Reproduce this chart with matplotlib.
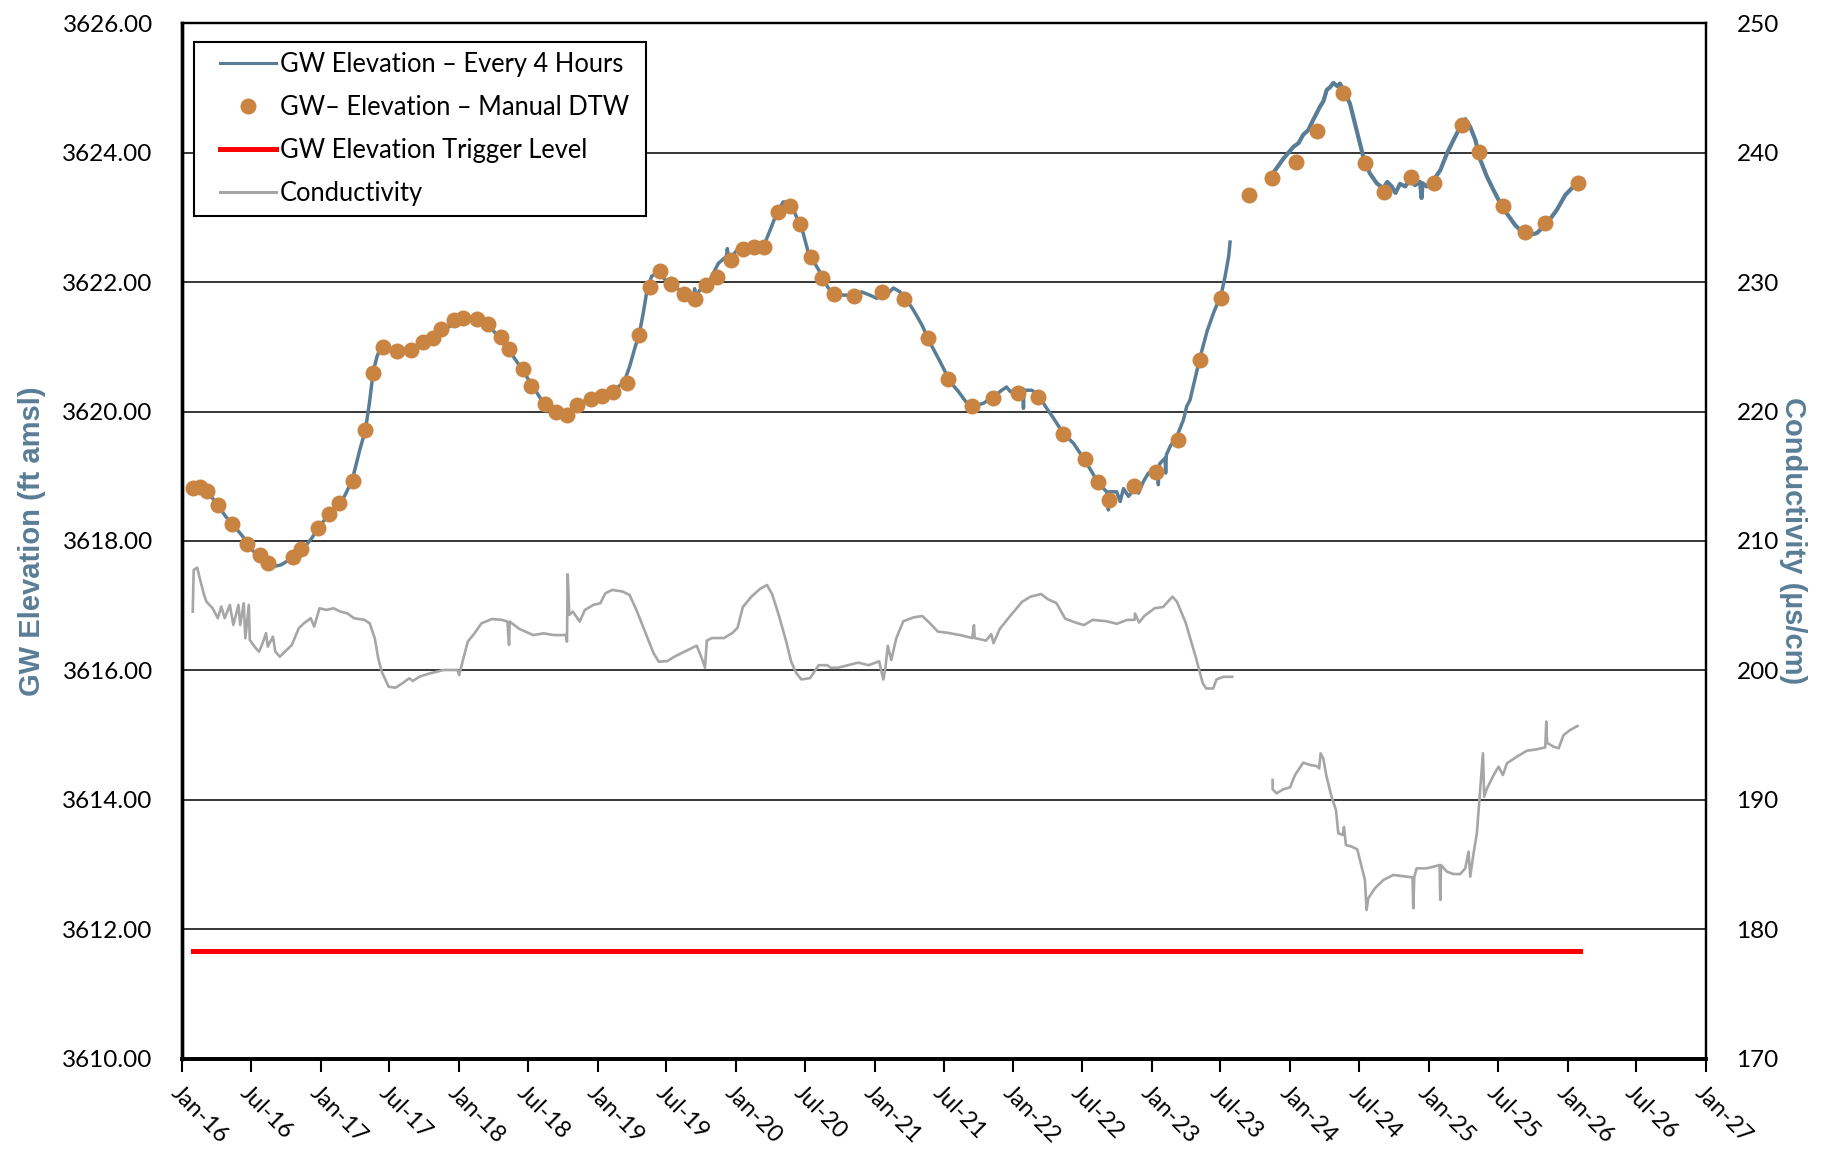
import matplotlib
matplotlib.use('Agg')
from matplotlib import pyplot as plt
import matplotlib.dates as mdates
from matplotlib.lines import Line2D
from matplotlib.legend_handler import HandlerLine2D
from datetime import datetime, timedelta
import numpy as np


def yr(d):
    # decimal year -> datetime
    y = int(d)
    return datetime(y, 1, 1) + timedelta(days=(d - y) * 365.25)


# GW elevation every 4 hours (ft amsl), decimal years
gw_dates_a = [2016.066, 2016.135, 2016.190, 2016.259, 2016.315, 2016.370, 2016.439, 2016.508, 2016.577, 2016.646,
              2016.715, 2016.784, 2016.867, 2016.936, 2017.006, 2017.088, 2017.171, 2017.227, 2017.282, 2017.323,
              2017.351, 2017.379, 2017.406, 2017.434, 2017.489, 2017.558, 2017.641, 2017.724, 2017.807, 2017.890,
              2017.959, 2018.028, 2018.110, 2018.194, 2018.277, 2018.359, 2018.442, 2018.525, 2018.594, 2018.663,
              2018.719, 2018.774, 2018.843, 2018.940, 2019.023, 2019.106, 2019.188, 2019.230, 2019.271, 2019.299,
              2019.329, 2019.353, 2019.389, 2019.437, 2019.498, 2019.570, 2019.642, 2019.690, 2019.700, 2019.710,
              2019.738, 2019.810, 2019.871, 2019.930, 2019.936, 2019.945, 2019.967, 2020.015, 2020.075, 2020.147,
              2020.207, 2020.256, 2020.292, 2020.340, 2020.388, 2020.436, 2020.484, 2020.520, 2020.569, 2020.617,
              2020.665, 2020.725, 2020.797, 2020.869, 2020.905, 2020.966, 2021.014, 2021.062, 2021.100, 2021.134,
              2021.182, 2021.230, 2021.278, 2021.339, 2021.399, 2021.471, 2021.543, 2021.603, 2021.664, 2021.712,
              2021.784, 2021.856, 2021.916, 2021.950, 2021.977, 2022.037, 2022.070, 2022.073, 2022.076, 2022.133,
              2022.181, 2022.217, 2022.241, 2022.289, 2022.361, 2022.434, 2022.506, 2022.566, 2022.614, 2022.674,
              2022.686, 2022.692, 2022.746, 2022.771, 2022.795, 2022.831, 2022.867, 2022.903, 2022.939, 2022.975,
              2023.011, 2023.045, 2023.047, 2023.052, 2023.059, 2023.096, 2023.100, 2023.105, 2023.132, 2023.180,
              2023.228, 2023.252, 2023.276, 2023.300, 2023.350, 2023.400, 2023.450, 2023.500, 2023.530, 2023.555,
              2023.565]
gw_vals_a = [3618.81, 3618.84, 3618.74, 3618.56, 3618.38, 3618.25, 3618.07, 3617.86, 3617.71, 3617.60,
             3617.63, 3617.72, 3617.86, 3618.04, 3618.27, 3618.48, 3618.69, 3618.94, 3619.41, 3619.72,
             3620.13, 3620.62, 3620.85, 3621.00, 3620.98, 3620.93, 3620.93, 3621.03, 3621.13, 3621.26,
             3621.36, 3621.42, 3621.45, 3621.36, 3621.18, 3620.95, 3620.69, 3620.41, 3620.18, 3620.02,
             3619.95, 3619.92, 3620.08, 3620.21, 3620.26, 3620.33, 3620.44, 3620.69, 3621.00, 3621.18,
             3621.52, 3621.83, 3622.09, 3622.16, 3622.01, 3621.91, 3621.80, 3621.75, 3621.90, 3621.78,
             3621.88, 3622.03, 3622.29, 3622.40, 3622.52, 3622.38, 3622.39, 3622.52, 3622.56, 3622.57,
             3622.60, 3622.86, 3623.06, 3623.24, 3623.24, 3623.01, 3622.76, 3622.47, 3622.29, 3622.11,
             3621.91, 3621.80, 3621.80, 3621.78, 3621.85, 3621.80, 3621.75, 3621.91, 3621.84, 3621.91,
             3621.85, 3621.72, 3621.57, 3621.34, 3621.06, 3620.77, 3620.46, 3620.31, 3620.13, 3620.08,
             3620.13, 3620.23, 3620.33, 3620.38, 3620.31, 3620.33, 3620.35, 3620.05, 3620.33, 3620.33,
             3620.26, 3620.13, 3620.05, 3619.90, 3619.66, 3619.51, 3619.28, 3619.07, 3618.89, 3618.76,
             3618.48, 3618.76, 3618.76, 3618.61, 3618.81, 3618.69, 3618.79, 3618.74, 3618.92, 3619.05,
             3619.07, 3619.10, 3618.87, 3619.15, 3619.20, 3619.28, 3619.05, 3619.33, 3619.46, 3619.61,
             3619.87, 3620.08, 3620.18, 3620.40, 3620.85, 3621.25, 3621.55, 3621.80, 3622.10, 3622.40,
             3622.62]

gw_dates_b = [2023.890, 2023.950, 2024.022, 2024.060, 2024.094, 2024.130, 2024.166, 2024.214, 2024.240, 2024.263,
              2024.290, 2024.311, 2024.340, 2024.359, 2024.395, 2024.431, 2024.479, 2024.527, 2024.575, 2024.624,
              2024.672, 2024.700, 2024.732, 2024.760, 2024.792, 2024.830, 2024.864, 2024.900, 2024.937, 2024.948,
              2024.955, 2024.985, 2025.033, 2025.081, 2025.129, 2025.177, 2025.225, 2025.261, 2025.297, 2025.334,
              2025.370, 2025.418, 2025.466, 2025.514, 2025.562, 2025.622, 2025.670, 2025.730, 2025.779, 2025.851,
              2025.923, 2025.984, 2026.044, 2026.092]
gw_vals_b = [3623.73, 3623.91, 3624.09, 3624.15, 3624.28, 3624.35, 3624.51, 3624.71, 3624.80, 3624.97,
             3625.02, 3625.08, 3625.03, 3625.07, 3624.92, 3624.76, 3624.35, 3623.94, 3623.68, 3623.53,
             3623.45, 3623.55, 3623.48, 3623.38, 3623.52, 3623.48, 3623.58, 3623.50, 3623.55, 3623.30,
             3623.53, 3623.48, 3623.58, 3623.73, 3623.99, 3624.20, 3624.40, 3624.52, 3624.40, 3624.20,
             3623.89, 3623.63, 3623.42, 3623.22, 3623.06, 3622.88, 3622.78, 3622.73, 3622.76, 3622.91,
             3623.12, 3623.35, 3623.48, 3623.55]

# manual depth-to-water readings converted to elevation
man_dates = [2016.08, 2016.13, 2016.18, 2016.26, 2016.36, 2016.47, 2016.56, 2016.62, 2016.80, 2016.86,
             2016.98, 2017.06, 2017.13, 2017.23, 2017.32, 2017.38, 2017.45, 2017.55, 2017.65, 2017.74,
             2017.81, 2017.87, 2017.96, 2018.03, 2018.13, 2018.21, 2018.30, 2018.36, 2018.46, 2018.52,
             2018.62, 2018.70, 2018.78, 2018.85, 2018.95, 2019.03, 2019.11, 2019.21, 2019.30, 2019.38,
             2019.45, 2019.53, 2019.62, 2019.70, 2019.78, 2019.86, 2019.96, 2020.05, 2020.13, 2020.20,
             2020.30, 2020.39, 2020.46, 2020.54, 2020.62, 2020.71, 2020.85, 2021.05, 2021.21, 2021.38,
             2021.53, 2021.70, 2021.85, 2022.03, 2022.18, 2022.36, 2022.52, 2022.61, 2022.69, 2022.87,
             2023.03, 2023.19, 2023.35, 2023.50, 2023.70, 2023.865, 2024.039, 2024.190, 2024.383, 2024.537,
             2024.677, 2024.869, 2025.038, 2025.237, 2025.360, 2025.533, 2025.695, 2025.839, 2026.073]
man_vals = [3618.82, 3618.83, 3618.78, 3618.55, 3618.27, 3617.95, 3617.79, 3617.66, 3617.75, 3617.88,
            3618.20, 3618.42, 3618.58, 3618.92, 3619.72, 3620.60, 3621.00, 3620.93, 3620.95, 3621.07,
            3621.14, 3621.27, 3621.41, 3621.45, 3621.43, 3621.36, 3621.16, 3620.96, 3620.66, 3620.40,
            3620.12, 3619.99, 3619.95, 3620.10, 3620.19, 3620.24, 3620.31, 3620.44, 3621.18, 3621.92,
            3622.17, 3621.97, 3621.81, 3621.74, 3621.96, 3622.08, 3622.34, 3622.52, 3622.55, 3622.55,
            3623.08, 3623.17, 3622.90, 3622.39, 3622.06, 3621.81, 3621.79, 3621.85, 3621.74, 3621.14,
            3620.51, 3620.08, 3620.21, 3620.28, 3620.22, 3619.66, 3619.27, 3618.91, 3618.64, 3618.85,
            3619.07, 3619.56, 3620.80, 3621.76, 3623.35, 3623.61, 3623.85, 3624.34, 3624.92, 3623.84,
            3623.40, 3623.63, 3623.54, 3624.43, 3624.01, 3623.18, 3622.77, 3622.91, 3623.53]

trigger_dates = [2016.08, 2026.09]
trigger_level = 3611.67

# conductivity (us/cm)
cond_dates_a = [2016.078, 2016.085, 2016.110, 2016.135, 2016.160, 2016.177, 2016.222, 2016.259, 2016.284, 2016.309,
                2016.346, 2016.371, 2016.408, 2016.421, 2016.446, 2016.458, 2016.483, 2016.490, 2016.533, 2016.557,
                2016.582, 2016.607, 2016.620, 2016.657, 2016.674, 2016.707, 2016.744, 2016.794, 2016.843, 2016.881,
                2016.930, 2016.955, 2016.993, 2017.042, 2017.092, 2017.142, 2017.191, 2017.241, 2017.316, 2017.353,
                2017.390, 2017.415, 2017.440, 2017.490, 2017.540, 2017.589, 2017.639, 2017.664, 2017.714, 2017.788,
                2017.888, 2017.987, 2018.000, 2018.024, 2018.062, 2018.111, 2018.161, 2018.236, 2018.310, 2018.348,
                2018.360, 2018.365, 2018.435, 2018.534, 2018.609, 2018.683, 2018.770, 2018.778, 2018.783, 2018.795,
                2018.820, 2018.870, 2018.907, 2018.969, 2019.019, 2019.056, 2019.106, 2019.181, 2019.230, 2019.280,
                2019.342, 2019.404, 2019.442, 2019.504, 2019.554, 2019.628, 2019.715, 2019.752, 2019.775, 2019.788,
                2019.825, 2019.912, 2019.974, 2020.011, 2020.049, 2020.111, 2020.173, 2020.223, 2020.260, 2020.310,
                2020.360, 2020.397, 2020.434, 2020.471, 2020.534, 2020.596, 2020.658, 2020.683, 2020.733, 2020.807,
                2020.882, 2020.956, 2021.031, 2021.043, 2021.061, 2021.075, 2021.093, 2021.118, 2021.155, 2021.205,
                2021.280, 2021.342, 2021.392, 2021.454, 2021.528, 2021.628, 2021.702, 2021.715, 2021.720, 2021.802,
                2021.840, 2021.856, 2021.901, 2021.976, 2022.063, 2022.125, 2022.200, 2022.249, 2022.311, 2022.374,
                2022.448, 2022.510, 2022.572, 2022.672, 2022.747, 2022.821, 2022.875, 2022.878, 2022.908, 2022.945,
                2023.020, 2023.082, 2023.149, 2023.182, 2023.244, 2023.318, 2023.368, 2023.393, 2023.443, 2023.467,
                2023.517, 2023.580]
cond_vals_a = [204.54, 207.76, 207.94, 206.86, 205.83, 205.31, 204.80, 204.03, 204.93, 204.03,
               205.06, 203.51, 205.06, 203.51, 205.19, 202.48, 205.06, 202.35, 201.71, 201.45,
               202.09, 202.87, 201.84, 202.61, 201.45, 201.06, 201.45, 201.97, 203.25, 203.64,
               204.03, 203.38, 204.80, 204.67, 204.80, 204.54, 204.41, 204.03, 203.90, 203.64,
               202.48, 200.93, 199.90, 198.74, 198.66, 199.00, 199.39, 199.18, 199.52, 199.77,
               200.03, 200.03, 199.64, 200.67, 202.22, 202.87, 203.64, 203.97, 203.90, 203.77,
               201.97, 203.77, 203.20, 202.73, 202.86, 202.73, 202.73, 202.22, 207.43, 204.29,
               204.54, 203.77, 204.67, 205.06, 205.19, 205.96, 206.22, 206.09, 205.83, 204.67,
               202.99, 201.32, 200.67, 200.72, 201.06, 201.45, 201.91, 200.93, 200.20, 202.30,
               202.50, 202.50, 202.90, 203.30, 204.90, 205.70, 206.30, 206.60, 205.90, 204.20,
               202.30, 200.70, 199.80, 199.30, 199.40, 200.40, 200.40, 200.20, 200.20, 200.40,
               200.60, 200.40, 200.70, 200.10, 199.30, 200.10, 201.90, 200.80, 202.50, 203.80,
               204.10, 204.20, 203.70, 203.00, 202.90, 202.70, 202.50, 203.50, 202.50, 202.30,
               202.80, 202.10, 203.20, 204.20, 205.30, 205.70, 205.90, 205.50, 205.20, 204.00,
               203.70, 203.50, 203.90, 203.80, 203.60, 203.90, 203.90, 204.40, 203.70, 204.20,
               204.80, 204.90, 205.70, 205.30, 203.70, 201.00, 199.00, 198.60, 198.60, 199.30,
               199.50, 199.50]

cond_dates_b = [2023.872, 2023.872, 2023.901, 2023.949, 2023.998, 2024.034, 2024.094, 2024.142, 2024.190, 2024.209,
                2024.219, 2024.238, 2024.262, 2024.298, 2024.330, 2024.347, 2024.378, 2024.388, 2024.402, 2024.443,
                2024.484, 2024.515, 2024.539, 2024.551, 2024.563, 2024.611, 2024.672, 2024.744, 2024.840, 2024.883,
                2024.888, 2024.895, 2024.912, 2024.984, 2025.032, 2025.076, 2025.081, 2025.086, 2025.129, 2025.177,
                2025.225, 2025.261, 2025.285, 2025.297, 2025.321, 2025.345, 2025.365, 2025.389, 2025.398, 2025.418,
                2025.466, 2025.502, 2025.533, 2025.562, 2025.634, 2025.706, 2025.779, 2025.839, 2025.846, 2025.852,
                2025.899, 2025.935, 2025.971, 2026.019, 2026.072]
cond_vals_b = [191.53, 190.81, 190.50, 190.81, 190.96, 191.91, 192.87, 192.69, 192.61, 192.43,
               193.59, 193.20, 191.80, 190.24, 189.21, 187.41, 187.28, 187.90, 186.50, 186.38,
               186.17, 184.83, 183.80, 181.48, 182.38, 183.16, 183.80, 184.19, 184.06, 184.00,
               181.61, 184.00, 184.70, 184.70, 184.83, 184.96, 182.25, 184.96, 184.44, 184.26,
               184.26, 184.70, 185.99, 184.06, 185.86, 187.41, 190.24, 193.59, 190.24, 190.88,
               191.91, 192.56, 191.91, 192.82, 193.33, 193.79, 193.90, 194.05, 196.04, 194.40,
               194.10, 193.98, 195.00, 195.39, 195.70]

blue = '#5A7D97'
orange = '#C98441'
grey = '#A6A6A6'
tick_font = 'Lato'

fig = plt.figure(figsize=(18.32, 11.52), dpi=100)
ax = fig.add_axes([0.0993, 0.0811, 0.8319, 0.8986])
ax2 = ax.twinx()

ax.plot([yr(d) for d in gw_dates_a], gw_vals_a, color=blue, lw=2.5, zorder=3)
ax.plot([yr(d) for d in gw_dates_b], gw_vals_b, color=blue, lw=3.0, zorder=3)
ax.plot([yr(d) for d in man_dates], man_vals, 'o', color=orange, ms=11.5, mec='none', zorder=4)
ax.plot([yr(d) for d in trigger_dates], [trigger_level] * 2, color='#FF0000', lw=3.6, zorder=3)

ax2.plot([yr(d) for d in cond_dates_a], cond_vals_a, color=grey, lw=1.9)
ax2.plot([yr(d) for d in cond_dates_b], cond_vals_b, color=grey, lw=1.9)

ax.set_ylim(3610, 3626)
ax.set_yticks(np.arange(3610, 3627, 2))
ax.set_yticklabels(['%.2f' % v for v in np.arange(3610, 3627, 2)])
ax2.set_ylim(170, 250)
ax2.set_yticks(np.arange(170, 251, 10))

ax.set_xlim(datetime(2016, 1, 1), datetime(2027, 1, 1))
ax.xaxis.set_major_locator(mdates.MonthLocator(bymonth=[1, 7]))
ax.xaxis.set_major_formatter(mdates.DateFormatter('%b-%y'))

ax.grid(axis='y', color='black', lw=1.1)
ax.set_axisbelow(True)

for a in (ax, ax2):
    for s in a.spines.values():
        s.set_linewidth(1.6)
    a.spines['left'].set_linewidth(2.4)
    a.spines['bottom'].set_linewidth(2.6)

ax.tick_params(axis='y', length=0, pad=21, labelsize=17.5)
ax2.tick_params(axis='y', length=0, pad=22, labelsize=17.5)
ax.tick_params(axis='x', length=9, width=1.5, direction='out', labelsize=17, pad=8)
for lab in ax.get_xticklabels():
    lab.set_rotation(-45)
    lab.set_ha('left')
    lab.set_va('top')
    lab.set_rotation_mode('anchor')
for lab in ax.get_yticklabels() + ax2.get_yticklabels() + ax.get_xticklabels():
    lab.set_fontfamily(tick_font)

label_font = dict(family=['Liberation Sans', 'DejaVu Sans'], weight='bold', size=21, color=blue)
ax.set_ylabel('GW Elevation (ft amsl)', labelpad=12, **label_font)
ax2.set_ylabel('Conductivity (µs/cm)', rotation=270, labelpad=20, **label_font)

handles = [Line2D([], [], color=blue, lw=2.2),
           Line2D([], [], marker='o', ls='none', color=orange, ms=11.5, mec='none'),
           Line2D([], [], color='#FF0000', lw=3.6),
           Line2D([], [], color=grey, lw=2.2)]
labels = ['GW Elevation – Every 4 Hours', 'GW– Elevation – Manual DTW',
          'GW Elevation Trigger Level', 'Conductivity']
leg = ax2.legend(handles, labels, loc='upper left', bbox_to_anchor=(0.0077, 0.5, 0.2966, 0.482),
                 mode='expand', prop=dict(family=tick_font, size=18.4), frameon=True, fancybox=False,
                 edgecolor='black', framealpha=1, handlelength=2.84, handletextpad=0.14,
                 labelspacing=0.71, borderpad=0.38, borderaxespad=0,
                 handler_map={Line2D: HandlerLine2D(xpad=0.64)})
leg.get_frame().set_linewidth(1.5)

fig.savefig('out.png', dpi=100)
